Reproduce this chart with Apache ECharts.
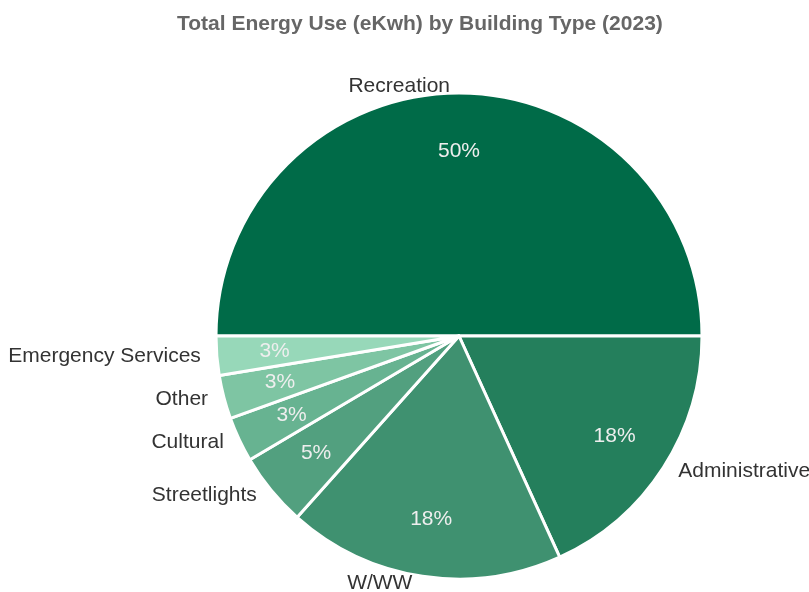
<!DOCTYPE html>
<html>
<head>
<meta charset="utf-8">
<script src="https://cdn.jsdelivr.net/npm/echarts@6/dist/echarts.min.js"></script>
<style>html,body{margin:0;padding:0;background:#fff;}#c{width:809px;height:592px;}</style>
</head>
<body>
<div id="c"></div>
<script>
const categories = ['Recreation', 'Administrative', 'W/WW', 'Streetlights', 'Cultural', 'Other', 'Emergency Services'];
const values = [50.0, 18.2, 18.4, 4.9, 3.0, 2.9, 2.6];
const colors = ['#006b48', '#247f5c', '#3f9170', '#52a07f', '#67b391', '#7ec5a3', '#97d8b9'];
const titleText = 'Total Energy Use (eKwh) by Building Type (2023)';

const data = categories.map((name, i) => ({ name: name, value: values[i], itemStyle: { color: colors[i] } }));
const FONT = '"Liberation Sans", Arial, sans-serif';

const chart = echarts.init(document.getElementById('c'), null, { renderer: 'canvas' });
chart.setOption({
  animation: false,
  backgroundColor: '#ffffff',
  title: {
    text: titleText,
    left: 172,
    top: 9,
    textStyle: { fontFamily: FONT, fontSize: 21, fontWeight: 'bold', color: '#666666' }
  },
  series: [
    {
      type: 'pie',
      center: [459, 336],
      radius: [0, 243],
      startAngle: 180,
      clockwise: true,
      avoidLabelOverlap: false,
      data: data,
      itemStyle: { borderColor: '#ffffff', borderWidth: 3 },
      label: {
        show: true,
        position: 'outside',
        formatter: '{b}',
        fontFamily: FONT,
        fontSize: 21,
        color: '#333333'
      },
      labelLine: { show: false, length: 7, length2: 4 }
    },
    {
      type: 'pie',
      center: [459, 336],
      radius: [121, 243],
      startAngle: 180,
      clockwise: true,
      silent: true,
      percentPrecision: 0,
      data: data.map(d => ({ name: d.name, value: d.value })),
      itemStyle: { color: 'rgba(0,0,0,0)', borderWidth: 0 },
      label: {
        show: true,
        position: 'inside',
        formatter: '{d}%',
        fontFamily: FONT,
        fontSize: 21,
        color: '#eeeeee'
      },
      labelLine: { show: false }
    }
  ]
});
</script>
</body>
</html>
